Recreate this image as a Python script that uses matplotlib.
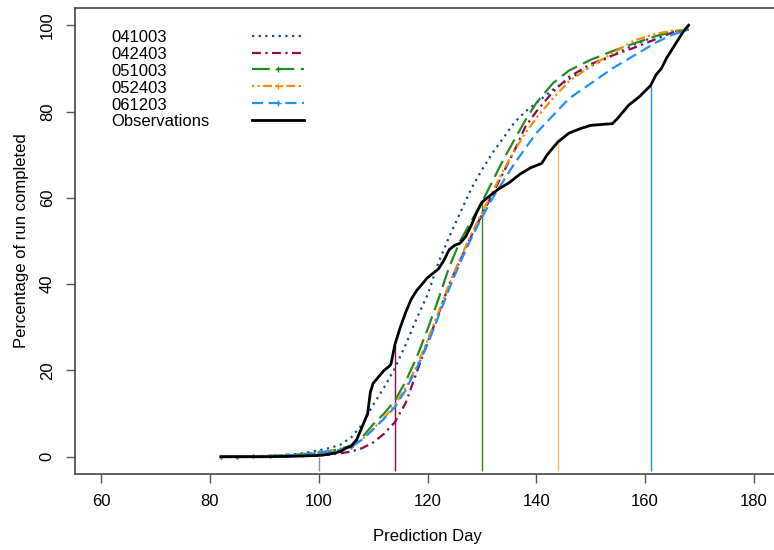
import numpy as np
import matplotlib
matplotlib.use('Agg')
import matplotlib.pyplot as plt
from matplotlib.lines import Line2D

plt.rcParams['font.family'] = ['Liberation Sans', 'DejaVu Sans']

days = [82, 85, 88, 91, 94, 97, 100, 102, 104, 106, 108, 110, 112, 114, 116, 118, 120,
        122, 124, 126, 128, 130, 132, 134, 136, 138, 140, 143, 146, 150, 154, 158, 162,
        165, 168]

p041003 = [0, 0.05, 0.1, 0.2, 0.4, 0.8, 1.5, 2, 2.8, 4.5, 7.5, 12, 16, 20.5, 26, 32, 37.5,
           45, 51, 56.5, 62, 66.5, 70.5, 74, 77.5, 80, 82, 85, 87.5, 90.5, 93, 95.5, 97.5,
           98.5, 99]
p042403 = [0, 0, 0, 0.05, 0.1, 0.2, 0.3, 0.5, 0.8, 1.2, 2, 3.3, 5.3, 8, 12.5, 19.5, 26.5,
           33, 40, 45.5, 51, 56, 61, 66, 71, 76.5, 80, 84.5, 88, 91, 93, 94.8, 96.8,
           98.3, 99]
p051003 = [0, 0.05, 0.1, 0.2, 0.3, 0.6, 1, 1.3, 1.8, 2.6, 4.5, 7.5, 10, 13, 17.5, 23, 29.5,
           36.5, 44, 50, 54.5, 59, 64, 69, 73.5, 78, 82, 86.5, 89.5, 92, 94, 95.8, 97.5,
           98.5, 99]
p052403 = [0, 0.05, 0.1, 0.2, 0.3, 0.5, 0.9, 1.2, 1.6, 2.3, 4, 6.5, 9, 12, 16, 21, 27,
           33.5, 40, 46, 51.5, 56.5, 61.5, 66.5, 71, 75, 78.5, 83, 87, 90.5, 93.5, 96.5, 98,
           98.8, 99]
p061203 = [0, 0.05, 0.1, 0.2, 0.3, 0.5, 0.9, 1.2, 1.6, 2.3, 4, 6.3, 8.8, 11.5, 15.5, 20.5, 26,
           32.5, 39, 45, 50.5, 55.5, 60, 64, 68, 71.5, 75, 79, 83, 86.5, 90, 93, 96,
           97.8, 99]

obs_day = [82, 90, 95, 100, 102, 104, 105, 106, 107, 108, 108.5, 109, 109.5, 110, 111, 112,
           113, 113.3, 114, 115, 116, 117, 118, 119, 120, 121, 122, 123, 124, 125, 126, 127,
           128, 129, 130, 131, 133, 135, 137, 139, 141, 142, 143, 144, 146, 148, 150, 152,
           154, 155, 157, 159, 161, 162, 163, 164, 165, 166, 167, 168]
obs_pct = [0, 0, 0.1, 0.3, 0.6, 1.2, 2, 2.5, 4, 7, 8.5, 10, 15, 17, 18.5, 20,
           21, 21.5, 26, 30, 33.5, 36.5, 38.5, 40, 41.5, 42.5, 43.5, 45.5, 48, 49, 49.5, 51,
           53.5, 56.5, 59, 60, 62, 63.5, 65.5, 67, 68, 70, 71.5, 73, 75, 76, 76.8, 77,
           77.2, 78.5, 81.5, 83.5, 86, 88.5, 90, 92.5, 94.5, 96.5, 98.5, 100]

labels = ['041003', '042403', '051003', '052403', '061203']
series = [p041003, p042403, p051003, p052403, p061203]
colors = ['#104E8B', '#8B0A50', '#228B22', '#FF8C00', '#1E90FF']
styles = [(0, (1, 2)), (0, (4, 2, 1, 2)), (0, (8, 3)), (0, (1, 1.5, 1, 1.5, 4, 1.5)), (0, (5, 2.5))]
markers = [None, None, '+', '+', '+']

# prediction days and observed completion on those days
pred_days = [100, 114, 130, 144, 161]
pred_obs = [0, 26, 59, 73, 86]
vline_alpha = [0.6, 1, 1, 0.6, 1]

fig = plt.figure(figsize=(7.74, 5.5), dpi=100)
ax = fig.add_axes([75/774, 1-474/550, 705/774, 466/550])

for d, top, c, a in zip(pred_days, pred_obs, colors, vline_alpha):
    ax.vlines(d, -3.3, top, color=c, lw=1, alpha=a)

for lab, y, c, ls, m in zip(labels, series, colors, styles, markers):
    ax.plot(days, y, color=c, ls=ls, lw=1.6, marker=m, ms=3, mew=1,
            markevery=list(range(0, 10)) if m else None)
ax.plot(obs_day, obs_pct, color='black', lw=2)

ax.set_xlim(55.2, 184.8)
ax.set_ylim(-4, 104)
ax.set_xticks(range(60, 181, 20))
ax.set_yticks(range(0, 101, 20))
ax.tick_params(length=6.5, width=1, color='#555555', labelsize=12, pad=8)
ax.tick_params(axis='y', labelrotation=90)
for t in ax.get_yticklabels():
    t.set_va('center')
for s in ax.spines.values():
    s.set_color('#444444')
    s.set_linewidth(1.2)
ax.set_xlabel('Prediction Day', fontsize=12, labelpad=14)
ax.set_ylabel('Percentage of run completed', fontsize=12, labelpad=8)

# legend: text left, line sample right
leg_labels = labels + ['Observations']
leg_colors = colors + ['black']
leg_styles = styles + ['-']
leg_markers = markers + [None]
for i in range(6):
    yy = 0.9405 - i * 0.0362
    ax.text(0.051, yy - 0.004, leg_labels[i], transform=ax.transAxes, fontsize=12,
            va='center', ha='left')
    ln = Line2D([0.2515, 0.288, 0.3245], [yy, yy, yy], transform=ax.transAxes,
                color=leg_colors[i], ls=leg_styles[i], lw=2 if i == 5 else 1.6,
                marker=leg_markers[i], ms=4, mew=1, markevery=[1])
    ax.add_line(ln)

fig.savefig('out.png', dpi=100)
